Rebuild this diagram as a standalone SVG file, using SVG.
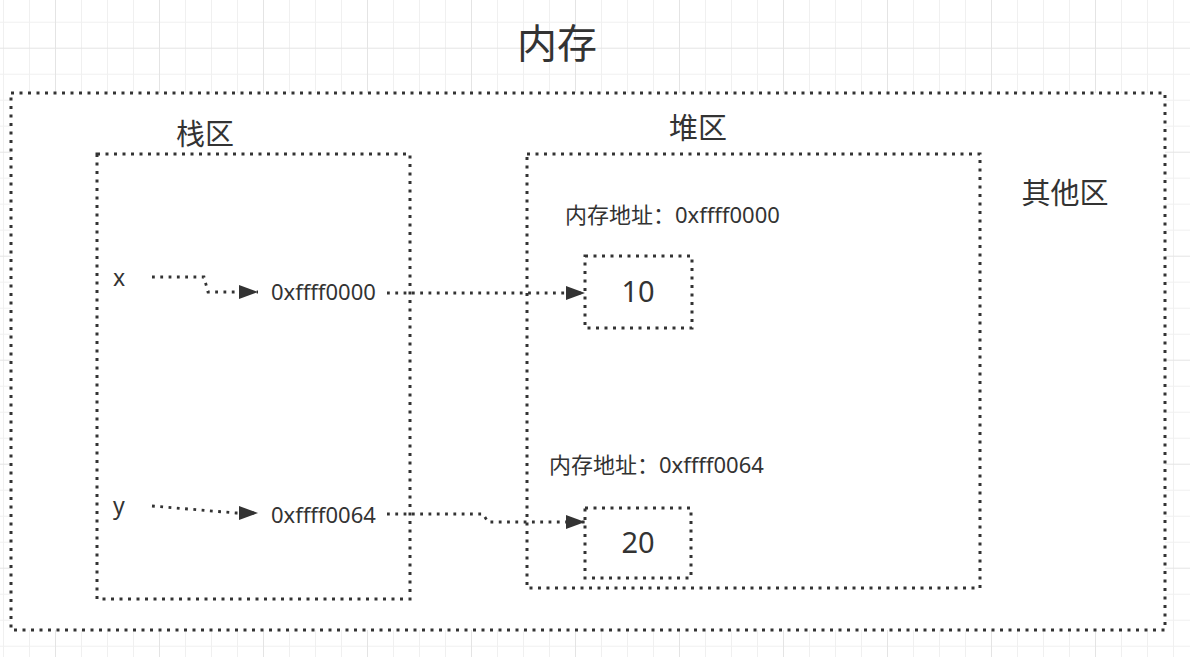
<svg xmlns="http://www.w3.org/2000/svg" width="1190" height="657" viewBox="0 0 1190 657">
<defs>
<pattern id="grid" patternUnits="userSpaceOnUse" x="55" y="47.7" width="104" height="104">
<path d="M0.5 0V104M26.5 0V104M52.5 0V104M78.5 0V104M0 0.5H104M0 26.5H104M0 52.5H104M0 78.5H104" stroke="#f0f0f0" stroke-width="1" fill="none"/>
<path d="M0.5 0V104M0 0.5H104" stroke="#e4e4e4" stroke-width="1" fill="none"/>
</pattern>
<marker id="arrow" markerUnits="userSpaceOnUse" markerWidth="19" markerHeight="14" refX="19" refY="7" orient="auto">
<path d="M0,0 L19,7 L0,14 Z" fill="#333"/>
</marker>
</defs>
<style>
.box{fill:#fff;stroke:#333;stroke-width:3;stroke-dasharray:3 5.5}
.inner{fill:none;stroke:#333;stroke-width:3;stroke-dasharray:3 5.5}
.conn{fill:none;stroke:#333;stroke-width:2.8;stroke-dasharray:2.8 5.5;marker-end:url(#arrow)}
.t{font-family:"Noto Sans","Noto Sans CJK SC",sans-serif;fill:#333}
.title{font-size:40px;text-anchor:middle}
.area{font-size:29px;text-anchor:middle}
.lbl{font-size:22px}
.var{font-size:23px}
.val{font-size:29px;text-anchor:middle}
</style>
<rect width="1190" height="657" fill="#fff"/>
<rect width="1190" height="657" fill="url(#grid)"/>

<g id="title"><text class="t title" x="557" y="58">内存</text></g>

<g id="memory">
<rect class="box" x="11" y="93" width="1154" height="537"/>
<text class="t area" x="1065" y="204">其他区</text>
</g>

<g id="stack">
<rect class="inner" x="97" y="154" width="313" height="445"/>
<text class="t area" x="205" y="145">栈区</text>
</g>

<g id="heap">
<rect class="inner" x="527" y="154" width="453" height="434"/>
<text class="t area" x="698" y="139">堆区</text>
</g>

<g id="var-x"><text class="t var" x="113" y="286">x</text></g>
<g id="var-y"><text class="t var" x="113" y="514">y</text></g>
<g id="addr-x"><text class="t lbl" x="271" y="300">0xffff0000</text></g>
<g id="addr-y"><text class="t lbl" x="271" y="523">0xffff0064</text></g>

<g id="heap-label-1"><text class="t lbl" x="565" y="223">内存地址：0xffff0000</text></g>
<g id="heap-label-2"><text class="t lbl" x="549" y="473">内存地址：0xffff0064</text></g>

<g id="value-10">
<rect class="inner" x="585" y="256" width="107" height="72"/>
<text class="t val" x="638" y="302">10</text>
</g>
<g id="value-20">
<rect class="inner" x="585" y="508" width="106" height="70"/>
<text class="t val" x="638" y="553">20</text>
</g>

<g id="connectors">
<path class="conn" d="M152,277 H204 L208,292 H258"/>
<path class="conn" d="M387,293 H585"/>
<path class="conn" d="M152,506 L236,513 H258"/>
<path class="conn" d="M387,514 H483 L488,522 H585"/>
</g>
</svg>
